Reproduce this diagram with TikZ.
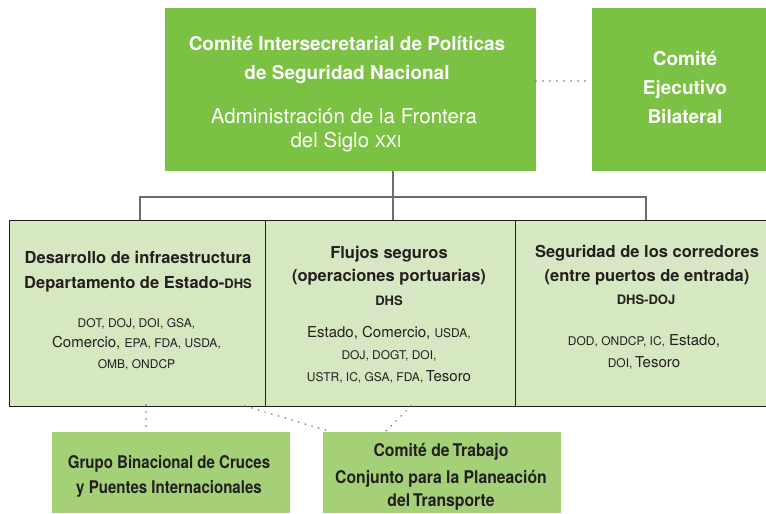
\documentclass[tikz,border=0pt]{standalone}
\usepackage{fontspec}
\setmainfont{TeX Gyre Heros}
\newfontfamily\condA[FakeStretch=0.86]{TeX Gyre Heros}
\newfontfamily\condB[FakeStretch=0.9]{TeX Gyre Heros}
\definecolor{gmain}{RGB}{123,193,67}
\definecolor{gband}{RGB}{213,232,193}
\definecolor{gsub}{RGB}{164,208,120}
\definecolor{txtdark}{RGB}{35,31,32}
\definecolor{lgray}{RGB}{109,110,113}
\newcommand\fsz[1]{\fontsize{#1}{#1}\selectfont}
\newcommand\acr[1]{{\fsz{12}#1}}
\begin{document}
\begin{tikzpicture}[x=1pt,y=-1pt,
  topbox/.style={draw=none, fill=gmain, inner sep=0pt, anchor=north west},
  colbox/.style={draw=txtdark, line width=1.1pt, fill=gband, inner sep=0pt, anchor=north west, minimum height=185.5pt},
  subbox/.style={draw=none, fill=gsub, inner sep=0pt, anchor=north west, minimum width=238pt, minimum height=81pt},
  wtxt/.style={text=white, anchor=base, inner sep=0pt},
  dtxt/.style={text=txtdark, anchor=base, inner sep=0pt},
  bus/.style={draw=lgray, line width=1.6pt},
  dots/.style={draw=lgray, line width=1.7pt, line cap=round, dash pattern=on 0pt off 7pt}]
\useasboundingbox (0,0) rectangle (766,514);
\clip (0,0) rectangle (766,514);

% top boxes
\node[topbox, minimum width=371pt, minimum height=163pt] (main) at (165,8) {};
\node[topbox, minimum width=190pt, minimum height=163pt] (exec) at (592,8) {};

% band columns
\node[colbox, minimum width=256pt] (col1) at (9,220) {};
\node[colbox, minimum width=250pt] (col2) at (265,220) {};
\node[colbox, minimum width=270pt] (col3) at (515,220) {};

% bottom boxes
\node[subbox] (sub1) at (52,432) {};
\node[subbox] (sub2) at (323,432) {};

% coordinates for connectors
\coordinate (mainB) at (393,171);
\coordinate (c1T) at (140,220);
\coordinate (c2T) at (393,220);
\coordinate (c3T) at (646,220);
\coordinate (busR) at (646,197);
\coordinate (mainE) at (536,81);
\coordinate (execW) at (592,81);
\coordinate (c1B) at (146,405);
\coordinate (s1T) at (146,432);
\coordinate (c1Bb) at (245,406);
\coordinate (s2Ta) at (332,432);
\coordinate (c2B) at (411,406);
\coordinate (s2Tb) at (385,432);

\draw[bus] (mainB) -- (c2T);
\draw[bus] (c1T) |- (busR) -- (c3T);
\draw[dots] (mainE) -- (execW);
\draw[dots] (c1B) -- (s1T);
\draw[dots] (c1Bb) -- (s2Ta);
\draw[dots] (c2B) -- (s2Tb);

% main box text
\node[wtxt, font=\bfseries\fsz{19}] (m1) at (347,50) {Comité Intersecretarial de Políticas};
\node[wtxt, font=\bfseries\fsz{19}] (m2) at (347,79) {de Seguridad Nacional};
\node[wtxt, font=\fsz{20.5}] (m3) at (344,123) {Administración de la Frontera};
\node[wtxt, font=\fsz{20.5}] (m4) at (346,147) {del Siglo {\fsz{16.5}XXI}};

% exec box text
\node[wtxt, font=\bfseries\fsz{19}] (e1) at (685,65) {Comité};
\node[wtxt, font=\bfseries\fsz{19}] (e2) at (685,94) {Ejecutivo};
\node[wtxt, font=\bfseries\fsz{19}] (e3) at (685,123) {Bilateral};

% column 1
\node[dtxt, font=\bfseries\fsz{16.5}] (a1) at (138,263) {Desarrollo de infraestructura};
\node[dtxt, font=\bfseries\fsz{16.5}] (a2) at (138,288) {Departamento de Estado-{\fsz{13}DHS}};
\node[dtxt, font=\fsz{15}] (a3) at (136.5,327) {\acr{DOT, DOJ, DOI, GSA,}};
\node[dtxt, font=\fsz{15}] (a4) at (136.5,347) {Comercio, \acr{EPA, FDA, USDA,}};
\node[dtxt, font=\fsz{15}] (a5) at (136.5,368) {\acr{OMB, ONDCP}};

% column 2
\node[dtxt, font=\bfseries\fsz{16.5}] (b1) at (389,258) {Flujos seguros};
\node[dtxt, font=\bfseries\fsz{16.5}] (b2) at (389,281) {(operaciones portuarias)};
\node[dtxt, font=\bfseries\fsz{13}] (b3) at (389,305.5) {DHS};
\node[dtxt, font=\fsz{15}] (b4) at (389,337.5) {Estado, Comercio, \acr{USDA,}};
\node[dtxt, font=\fsz{15}] (b5) at (389,359) {\acr{DOJ, DOGT, DOI,}};
\node[dtxt, font=\fsz{15}] (b6) at (389,381) {\acr{USTR, IC, GSA, FDA,}\,Tesoro};

% column 3
\node[dtxt, font=\bfseries\fsz{16.5}] (d1) at (647,257.5) {Seguridad de los corredores};
\node[dtxt, font=\bfseries\fsz{16.5}] (d2) at (647,281.5) {(entre puertos de entrada)};
\node[dtxt, font=\bfseries\fsz{13}] (d3) at (646,304.5) {DHS-DOJ};
\node[dtxt, font=\fsz{15}] (d4) at (644,345.5) {\acr{DOD, ONDCP, IC,} Estado,};
\node[dtxt, font=\fsz{15}] (d5) at (644,367.5) {\acr{DOI,}\,Tesoro};

% bottom boxes text
\node[dtxt, font=\condA\bfseries\fsz{17.5}] (g1) at (169,468) {Grupo Binacional de Cruces};
\node[dtxt, font=\condA\bfseries\fsz{17.5}] (g2) at (169,493) {y Puentes Internacionales};
\node[dtxt, font=\condB\bfseries\fsz{17.5}] (h1) at (441,456.5) {Comité de\,Trabajo};
\node[dtxt, font=\condB\bfseries\fsz{17.5}] (h2) at (441,483) {Conjunto para la Planeación};
\node[dtxt, font=\condB\bfseries\fsz{17.5}] (h3) at (441,506.5) {del\,Transporte};
\end{tikzpicture}
\end{document}
